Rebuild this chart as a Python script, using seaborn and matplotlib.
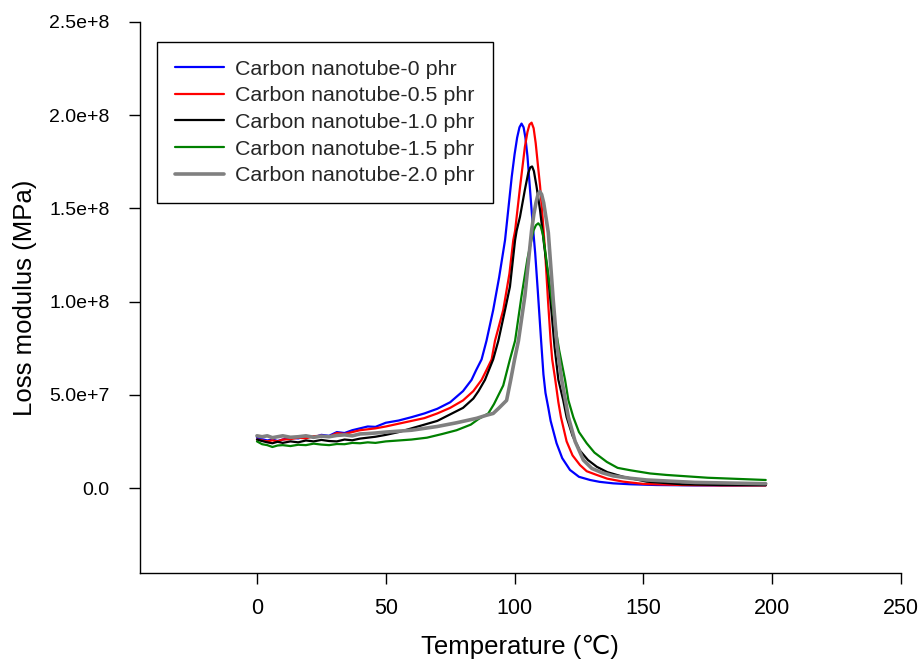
import matplotlib
matplotlib.use("Agg")
import matplotlib.pyplot as plt
import seaborn as sns
import pandas as pd
import numpy as np

# ---------------- data ----------------
labels = ["Carbon nanotube-0 phr", "Carbon nanotube-0.5 phr", "Carbon nanotube-1.0 phr",
          "Carbon nanotube-1.5 phr", "Carbon nanotube-2.0 phr"]

t_0 = [0, 2, 4, 6, 8, 10, 13, 16, 19, 22, 25, 28, 31, 34, 37, 40, 43, 46, 50, 55, 60, 65, 70, 75, 80,
       83.3, 85, 87.2, 89.1, 91.7, 94, 96.3, 98.9, 100, 101, 101.9, 102.7, 103.5, 104.2, 105, 106,
       107, 108, 109, 110.3, 111.2, 112, 113.1, 114, 116.3, 118.5, 121.5, 125, 129.3, 133, 138.3,
       145, 155, 170, 185, 197.5]
y_0 = [2.7, 2.62, 2.55, 2.6, 2.52, 2.6, 2.7, 2.66, 2.78, 2.72, 2.85, 2.8, 3.0, 2.95, 3.1, 3.2, 3.3,
       3.28, 3.5, 3.62, 3.8, 4.0, 4.25, 4.6, 5.2, 5.8, 6.3, 6.9, 7.9, 9.55, 11.3, 13.3, 16.7, 17.9,
       18.8, 19.35, 19.55, 19.35, 18.8, 17.8, 16.0, 14.2, 12.6, 10.6, 7.9, 6.1, 5.1, 4.3, 3.6, 2.4,
       1.6, 0.97, 0.6, 0.43, 0.33, 0.25, 0.2, 0.16, 0.14, 0.14, 0.15]

t_05 = [0, 2, 4, 6, 8, 10, 13, 16, 19, 22, 25, 28, 31, 34, 37, 40, 43, 46, 50, 55, 60, 65, 70, 75, 80,
        84, 87.2, 89, 91.1, 92.4, 95.6, 98, 99.5, 100.2, 102, 104, 105, 105.8, 106.6, 107.4, 108.2,
        109, 109.9, 111, 111.8, 113, 114, 114.6, 115.7, 117, 118, 120.2, 122.5, 125.4, 128, 131.9,
        136, 142.2, 150, 165, 180, 197.5]
y_05 = [2.6, 2.55, 2.5, 2.56, 2.5, 2.6, 2.62, 2.7, 2.66, 2.78, 2.8, 2.75, 2.95, 2.9, 3.0, 3.1, 3.15,
        3.2, 3.3, 3.45, 3.6, 3.75, 4.0, 4.3, 4.7, 5.2, 5.8, 6.3, 6.9, 7.9, 9.55, 11.5, 13.3, 13.8,
        16.0, 18.3, 19.1, 19.5, 19.6, 19.3, 18.5, 17.4, 16.2, 14.3, 12.8, 10.0, 7.9, 6.9, 5.9, 4.6,
        3.8, 2.5, 1.75, 1.23, 0.9, 0.7, 0.5, 0.34, 0.22, 0.16, 0.14, 0.14]

t_10 = [0, 2, 4, 6, 8, 10, 13, 16, 19, 22, 25, 28, 31, 34, 37, 40, 43, 46, 50, 55, 60, 65, 70, 75, 80,
        84, 86, 88.5, 91.7, 93.7, 96.3, 98.2, 100.2, 100.8, 102.1, 104, 105.3, 106.1, 106.8, 107.5,
        108.5, 109.9, 111.5, 113, 114.3, 115.5, 117, 118.9, 120.2, 122.5, 125.4, 128.5, 131.9, 136,
        142.2, 151.3, 165, 180, 197.5]
y_10 = [2.6, 2.52, 2.45, 2.4, 2.48, 2.42, 2.5, 2.45, 2.55, 2.5, 2.58, 2.52, 2.5, 2.6, 2.56, 2.65,
        2.7, 2.75, 2.85, 3.0, 3.2, 3.4, 3.6, 3.95, 4.3, 4.8, 5.2, 5.8, 6.9, 7.9, 9.55, 10.8, 13.3,
        13.8, 14.55, 16.0, 16.9, 17.2, 17.25, 17.0, 16.2, 14.9, 13.0, 11.4, 9.5, 7.6, 5.8, 4.7, 3.8,
        2.8, 2.0, 1.5, 1.14, 0.85, 0.6, 0.34, 0.2, 0.16, 0.15]

t_15 = [0, 2, 4, 6, 8, 10, 13, 16, 19, 22, 25, 28, 31, 34, 37, 40, 43, 46, 50, 55, 60, 66, 72, 77.5,
        83, 86, 89.8, 92, 95.6, 98.2, 100.2, 102.7, 105, 107.3, 108.3, 109.2, 110.1, 111, 111.8,
        114.4, 116, 117.3, 119.6, 120.9, 122.8, 125, 128, 131, 135.8, 140, 145, 152.6, 159, 175,
        197.5]
y_15 = [2.5, 2.35, 2.3, 2.2, 2.28, 2.3, 2.25, 2.32, 2.3, 2.38, 2.33, 2.3, 2.36, 2.35, 2.42, 2.4,
        2.45, 2.42, 2.5, 2.55, 2.6, 2.7, 2.9, 3.1, 3.4, 3.7, 4.0, 4.5, 5.5, 6.9, 7.9, 10.3, 12.3,
        13.8, 14.1, 14.2, 14.05, 13.6, 12.8, 10.1, 8.5, 7.4, 5.8, 4.7, 3.8, 3.0, 2.4, 1.9, 1.4, 1.08,
        0.95, 0.78, 0.7, 0.55, 0.43]

t_20 = [0, 2, 4, 6, 8, 10, 13, 16, 19, 22, 25, 28, 31, 34, 37, 40, 43, 46, 50, 55, 60, 65, 70, 77.5,
        85.3, 89, 91.7, 94, 96.9, 98.5, 100, 101.5, 104, 106, 106.6, 107.5, 108.3, 109.1, 109.8,
        110.5, 111.3, 112.2, 113.1, 115, 116.5, 118.3, 120.9, 123.5, 126.7, 130, 134, 138.3, 145,
        151.3, 170, 197.5]
y_20 = [2.8, 2.75, 2.8, 2.7, 2.75, 2.8, 2.72, 2.75, 2.8, 2.72, 2.78, 2.75, 2.82, 2.85, 2.8, 2.9,
        2.92, 2.95, 3.0, 3.05, 3.1, 3.2, 3.3, 3.5, 3.74, 3.9, 4.0, 4.3, 4.7, 5.8, 6.9, 7.9, 10.3,
        13.0, 13.8, 14.7, 15.3, 15.75, 15.9, 15.75, 15.3, 14.5, 13.7, 10.1, 7.6, 5.8, 3.8, 2.5, 1.5,
        1.05, 0.82, 0.65, 0.52, 0.43, 0.3, 0.23]

x_ticks = [0, 50, 100, 150, 200, 250]
y_ticks = [0, 5e7, 1e8, 1.5e8, 2e8, 2.5e8]
y_tick_labels = ["0.0", "5.0e+7", "1.0e+8", "1.5e+8", "2.0e+8", "2.5e+8"]
x_label = "Temperature (\u2103)"
y_label = "Loss modulus (MPa)"

series_t = [t_0, t_05, t_10, t_15, t_20]
series_y = [y_0, y_05, y_10, y_15, y_20]
colors = ["#0000ff", "#ff0000", "#000000", "#008000", "#808080"]
widths = [1.6, 1.6, 1.6, 1.6, 2.6]

frames = []
for lab, t, y in zip(labels, series_t, series_y):
    frames.append(pd.DataFrame({"Temperature": t, "Loss": np.array(y) * 1e7, "Sample": lab}))
df = pd.concat(frames, ignore_index=True)

# ---------------- plotting ----------------
sns.set_theme(style="ticks")
plt.rcParams["font.family"] = ["Liberation Sans", "DejaVu Sans"]

fig = plt.figure(figsize=(9.23, 6.64), dpi=100)
ax = fig.add_axes([140 / 923, 1 - 573 / 664, 761 / 923, 551 / 664])

for lab, c, w in zip(labels, colors, widths):
    sns.lineplot(data=df[df["Sample"] == lab], x="Temperature", y="Loss", color=c, lw=w,
                 label=lab, ax=ax, sort=False, estimator=None)

ax.set_xlim(-45.4, 250)
ax.set_ylim(-4.56e7, 2.5e8)
ax.set_xticks(x_ticks)
ax.set_xticklabels([str(v) for v in x_ticks])
ax.set_yticks(y_ticks)
ax.set_yticklabels(y_tick_labels)
ax.tick_params(axis="both", direction="out", length=8, width=1, colors="black")
ax.tick_params(axis="x", labelsize=15.5, pad=10)
ax.tick_params(axis="y", labelsize=14, pad=14)
for s in ["top", "right"]:
    ax.spines[s].set_visible(False)
for s in ["left", "bottom"]:
    ax.spines[s].set_color("black")
    ax.spines[s].set_linewidth(1.0)

ax.set_xlabel(x_label, fontsize=18.5, color="black")
ax.set_ylabel(y_label, fontsize=18.5, color="black")
ax.xaxis.set_label_coords(0.499, -0.112)
ax.yaxis.set_label_coords(-0.135, 0.5)

leg = ax.legend(loc="upper left", bbox_to_anchor=(17 / 761, (573 - 42) / 551),
                borderaxespad=0, frameon=True, fancybox=False, fontsize=15.4,
                handlelength=2.3, handletextpad=0.55, labelspacing=0.36, borderpad=0.82)
leg.get_frame().set_edgecolor("black")
leg.get_frame().set_linewidth(1.0)
leg.get_frame().set_alpha(1)

fig.savefig("out.png", dpi=100, facecolor="white")
